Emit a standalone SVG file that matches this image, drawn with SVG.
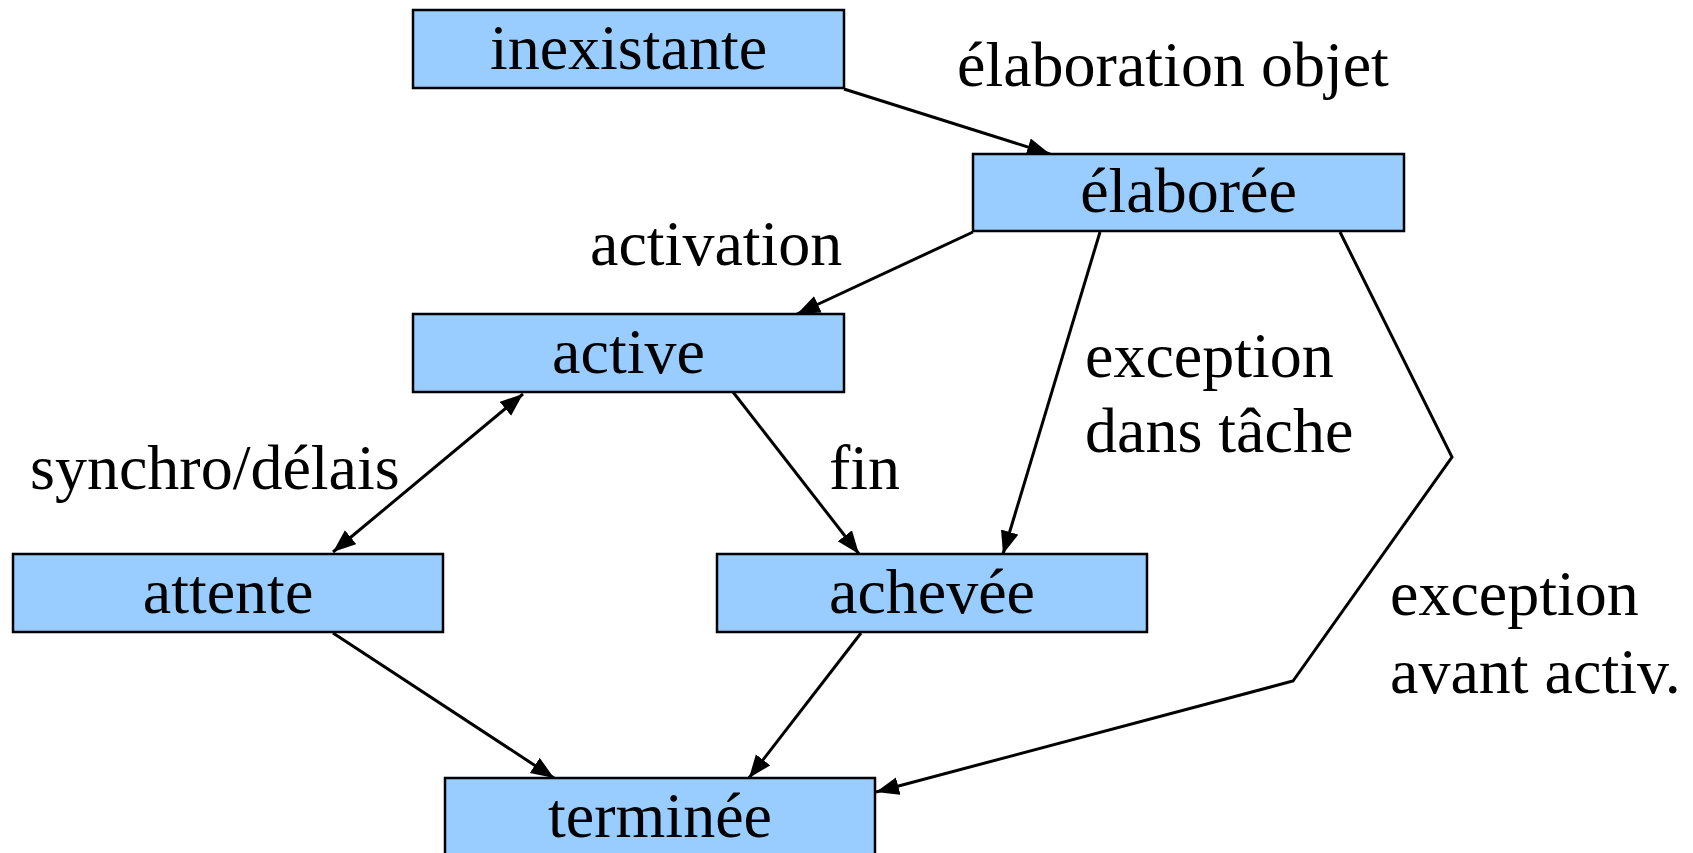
<svg xmlns="http://www.w3.org/2000/svg" width="1693" height="853" viewBox="0 0 1693 853">
<style>
.box{fill:#99CCFF;stroke:#000;stroke-width:2.5}
.t{font-family:"Liberation Serif","Times New Roman",serif;font-size:64px;fill:#000}
.c{text-anchor:middle}
.ln{fill:none;stroke:#000;stroke-width:3}
</style>
<defs>
<marker id="ah" markerUnits="userSpaceOnUse" markerWidth="26" markerHeight="20" refX="23" refY="9" orient="auto-start-reverse">
<path d="M0,0 L23,9 L0,18 z" fill="#000"/>
</marker>
</defs>
<rect width="1693" height="853" fill="#fff"/>
<g id="connectors">
<line class="ln" x1="844" y1="89" x2="1050" y2="154" marker-end="url(#ah)"/>
<line class="ln" x1="973" y1="232" x2="797" y2="314" marker-end="url(#ah)"/>
<line class="ln" x1="1100" y1="232" x2="1003" y2="554" marker-end="url(#ah)"/>
<polyline class="ln" points="1340,232 1452,457 1293,681 876,792" marker-end="url(#ah)"/>
<line class="ln" x1="523" y1="394" x2="333" y2="552" marker-start="url(#ah)" marker-end="url(#ah)"/>
<line class="ln" x1="733" y1="392" x2="859" y2="554" marker-end="url(#ah)"/>
<line class="ln" x1="333" y1="633" x2="554" y2="778" marker-end="url(#ah)"/>
<line class="ln" x1="861" y1="633" x2="749" y2="778" marker-end="url(#ah)"/>
</g>
<g id="inexistante"><rect class="box" x="413" y="10" width="431" height="78"/><text class="t c" x="628.5" y="69">inexistante</text></g>
<g id="elaboree"><rect class="box" x="973" y="154" width="431" height="77"/><text class="t c" x="1188.5" y="212">élaborée</text></g>
<g id="active"><rect class="box" x="413" y="314" width="431" height="78"/><text class="t c" x="628.5" y="373">active</text></g>
<g id="attente"><rect class="box" x="13" y="554" width="430" height="78"/><text class="t c" x="228" y="613">attente</text></g>
<g id="achevee"><rect class="box" x="717" y="554" width="430" height="78"/><text class="t c" x="932" y="613">achevée</text></g>
<g id="terminee"><rect class="box" x="445" y="778" width="430" height="82"/><text class="t c" x="660" y="837">terminée</text></g>
<g id="labels">
<text class="t" x="957" y="86">élaboration objet</text>
<text class="t" x="590" y="265">activation</text>
<text class="t" x="30" y="489">synchro/délais</text>
<text class="t" x="829" y="489">fin</text>
<text class="t" x="1085" y="377">exception</text>
<text class="t" x="1085" y="452">dans tâche</text>
<text class="t" x="1390" y="615">exception</text>
<text class="t" x="1390" y="693">avant activ.</text>
</g>
</svg>
